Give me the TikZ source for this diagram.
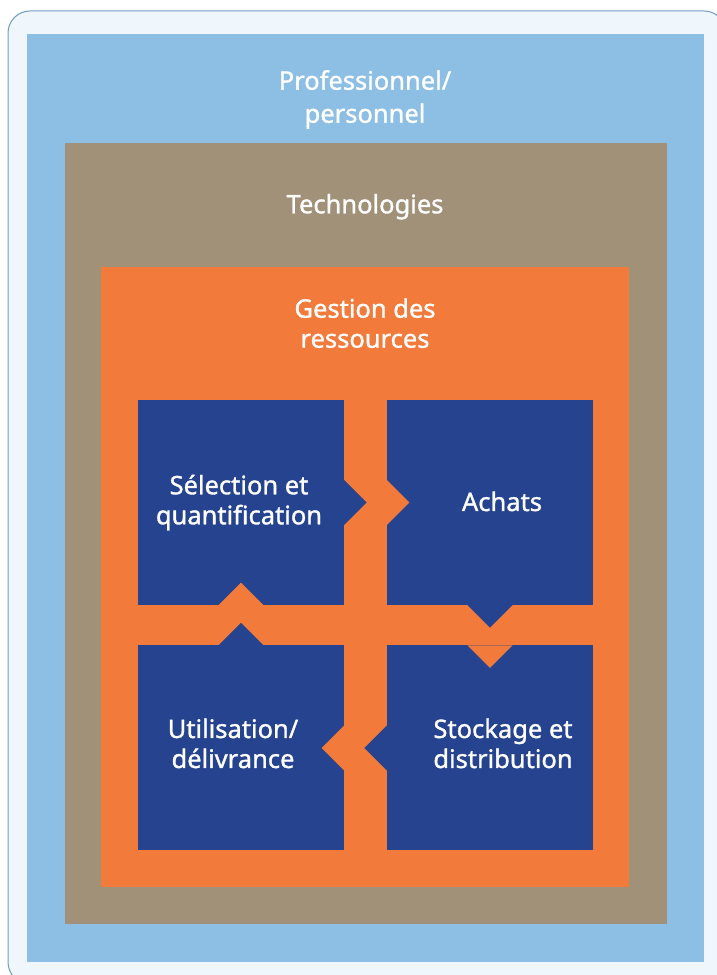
\documentclass[tikz,border=0pt]{standalone}
\usepackage{fontspec}
\setmainfont{Noto Sans}
\newfontfamily\labelfont[FakeBold=1.2]{Noto Sans}

\definecolor{paleblue}{HTML}{EFF7FD}
\definecolor{frameblue}{HTML}{6F9CC4}
\definecolor{skyblue}{HTML}{8DBFE4}
\definecolor{taupe}{HTML}{A09178}
\definecolor{carrot}{HTML}{F27A3B}
\definecolor{navy}{HTML}{25438E}

\tikzset{
  block/.style={fill=navy, minimum width=206pt, minimum height=205pt, inner sep=0pt},
  caption/.style={text=white, align=center, anchor=base, inner sep=0pt, font=\labelfont\fontsize{25.5}{30}\selectfont},
}

\begin{document}
\begin{tikzpicture}[x=1pt,y=1pt]
	\useasboundingbox (0,0) rectangle (717,975);
	\clip (0,0) rectangle (717,975);

	% nested frames
	\filldraw[fill=paleblue, draw=frameblue, line width=1pt, rounded corners=22pt] (8,-9) rectangle (726,964);
	\fill[skyblue] (27,13) rectangle (704,941);
	\fill[taupe] (65,51) rectangle (667,832);
	\fill[carrot] (101,88) rectangle (629,708);

	% the four steps
	\node[block] (selection) at (241,472.5) {};
	\node[block] (achats) at (490,472.5) {};
	\node[block] (utilisation) at (241,227) {};
	\node[block] (stockage) at (490,227) {};

	% selection -> achats
	\fill[navy] ([yshift=22.5]selection.east) -- ++(22.5,-22.5) -- ([yshift=-22.5]selection.east) -- cycle;
	\fill[carrot] ([yshift=22.5]achats.west) -- ++(22.5,-22.5) -- ([yshift=-22.5]achats.west) -- cycle;
	% achats -> stockage
	\fill[navy] ([xshift=-22.5]achats.south) -- ++(22.5,-22.5) -- ([xshift=22.5]achats.south) -- cycle;
	\fill[carrot] ([xshift=-22.5]stockage.north) -- ++(22.5,-22.5) -- ([xshift=22.5]stockage.north) -- cycle;
	% stockage -> utilisation
	\fill[navy] ([yshift=22.5]stockage.west) -- ++(-22.5,-22.5) -- ([yshift=-22.5]stockage.west) -- cycle;
	\fill[carrot] ([yshift=22.5]utilisation.east) -- ++(-22.5,-22.5) -- ([yshift=-22.5]utilisation.east) -- cycle;
	% utilisation -> selection
	\fill[navy] ([xshift=-22.5]utilisation.north) -- ++(22.5,22.5) -- ([xshift=22.5]utilisation.north) -- cycle;
	\fill[carrot] ([xshift=-22.5]selection.south) -- ++(22.5,22.5) -- ([xshift=22.5]selection.south) -- cycle;

	% labels (base = baseline of the last line)
	\node[caption, font=\labelfont\fontsize{25.5}{33}\selectfont] (pro) at (365,852.3) {Professionnel/\\personnel};
	\node[caption] (techno) at (365,761.7) {Technologies};
	\node[caption] (gestion) at (365,627.3) {Gestion des\\ressources};
	\node[caption] (selection-txt) at (239,450.7) {Sélection et\\quantification};
	\node[caption] (achats-txt) at (502,464) {Achats};
	\node[caption] (utilisation-txt) at (233,207) {Utilisation/\\délivrance};
	\node[caption] (stockage-txt) at (503,207) {Stockage et\\distribution};
\end{tikzpicture}
\end{document}
